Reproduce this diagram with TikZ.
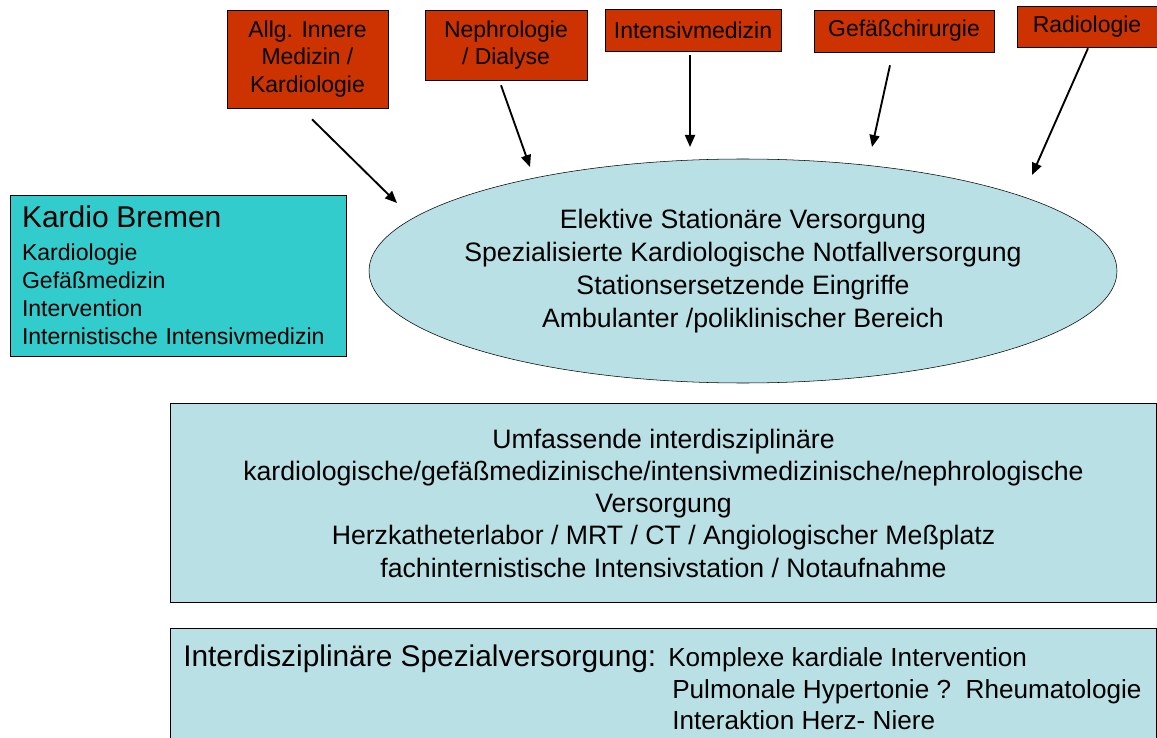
\documentclass[tikz,border=0pt]{standalone}
\usepackage{fontspec}
\setmainfont{Liberation Sans}
\usetikzlibrary{shapes.geometric,arrows.meta,shadows}
\definecolor{fachrot}{RGB}{204,51,0}
\definecolor{tuerkis}{RGB}{51,204,204}
\definecolor{hellblau}{RGB}{185,224,228}

\begin{document}
\begin{tikzpicture}[x=0.75pt, y=-0.75pt,
    fach/.style={draw, fill=fachrot, align=center, inner sep=2pt, font=\fontsize{17.2}{20.6}\selectfont,
        drop shadow={shadow xshift=1pt, shadow yshift=-1pt, fill=black!70}},
    zentrum/.style={ellipse, draw, fill=hellblau, minimum width=561pt, minimum height=168pt,
        inner xsep=-30pt, inner ysep=0pt, align=center, font=\fontsize{20}{24.75}\selectfont},
    kardio/.style={draw, fill=tuerkis, minimum width=252pt, minimum height=120.75pt, text width=234pt,
        align=left, font=\fontsize{17.3}{21}\selectfont,
        drop shadow={shadow xshift=1pt, shadow yshift=-1pt, fill=black!70}},
    leiste/.style={draw, fill=hellblau, minimum width=739.5pt, align=center, font=\fontsize{20}{24.2}\selectfont},
    liste/.style={anchor=base west, inner sep=0pt, font=\fontsize{19.6}{24}\selectfont},
    pfeil/.style={-{Triangle[length=9pt,width=7.5pt]}, line width=1.4pt}]

    \useasboundingbox (0,0) rectangle (1157,738);
    \clip (0,0) rectangle (1157,738);

    % beteiligte Fachrichtungen
    \node[fach, minimum width=120.75pt, minimum height=73.5pt] (allg) at (307.5,59) {Allg. Innere\\Medizin /\\Kardiologie};
    \node[fach, minimum width=121.5pt, minimum height=52.5pt] (nephro) at (506,45) {Nephrologie\\/ Dialyse};
    \node[fach, minimum width=132pt, minimum height=31.5pt] (intensiv) at (693,30) {Intensivmedizin};
    \node[fach, minimum width=135pt, minimum height=31.5pt] (gefaess) at (904,31) {Gefäßchirurgie};
    \node[fach, minimum width=105pt, minimum height=30.75pt] (radio) at (1087,26.5) {Radiologie};

    % Versorgung
    \node[zentrum] (versorgung) at (743,271) {Elektive Stationäre Versorgung\\Spezialisierte Kardiologische Notfallversorgung\\Stationsersetzende Eingriffe\\Ambulanter /poliklinischer Bereich};

    \node[kardio] (bremen) at (178,275.5) {{\fontsize{22.5}{27}\selectfont Kardio Bremen}\\[3.75pt]Kardiologie\\Gefäßmedizin\\Intervention\\Internistische Intensivmedizin};

    \node[leiste, minimum height=149.25pt] (umfassend) at (663.5,503) {Umfassende interdisziplinäre\\kardiologische/gefäßmedizinische/intensivmedizinische/nephrologische\\Versorgung\\Herzkatheterlabor / MRT / CT / Angiologischer Meßplatz\\fachinternistische Intensivstation / Notaufnahme};

    \node[leiste, minimum height=112.5pt] (spezial) at (663.5,703) {};
    \node[anchor=base west, inner sep=0pt, font=\fontsize{22.4}{27}\selectfont] (spezialtitel) at (183,666) {Interdisziplinäre Spezialversorgung:};
    \node[liste] (komplex) at (668,666) {Komplexe kardiale Intervention};
    \node[liste] (pulmonal) at (672,698) {Pulmonale Hypertonie ?\ \ Rheumatologie};
    \node[liste] (niere) at (672,729) {Interaktion Herz- Niere};

    % Pfeile
    \coordinate (allg-s) at ([shift={(4.5,11)}]allg.south);
    \coordinate (nephro-s) at ([shift={(-5,5)}]nephro.south);
    \coordinate (intensiv-s) at ([shift={(-3,4)}]intensiv.south);
    \coordinate (gefaess-s) at ([shift={(-14,13)}]gefaess.south);
    \coordinate (radio-s) at ([shift={(1,1)}]radio.south);

    \coordinate (allg-z) at (397,203);
    \coordinate (nephro-z) at (530,167);
    \coordinate (intensiv-z) at (690,147);
    \coordinate (gefaess-z) at (872,147);
    \coordinate (radio-z) at (1032,175);

    \draw[pfeil] (allg-s) -- (allg-z);
    \draw[pfeil] (nephro-s) -- (nephro-z);
    \draw[pfeil] (intensiv-s) -- (intensiv-z);
    \draw[pfeil] (gefaess-s) -- (gefaess-z);
    \draw[pfeil] (radio-s) -- (radio-z);
\end{tikzpicture}
\end{document}
